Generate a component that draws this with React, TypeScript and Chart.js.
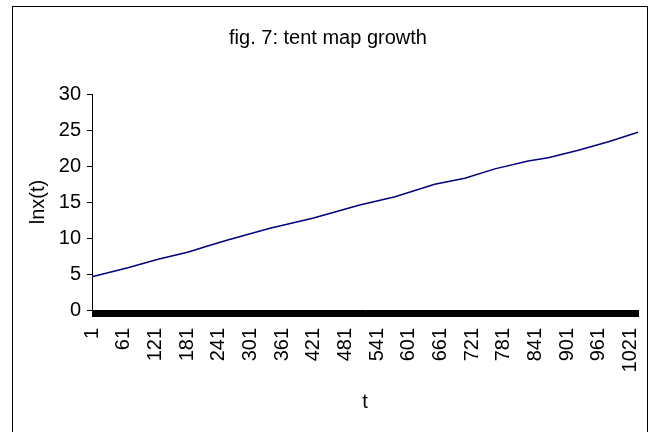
import { useEffect, useRef } from 'react';
import { Chart, registerables } from 'chart.js';

Chart.register(...registerables);

// Categories: time steps t = 1 .. 1035
const T_COUNT = 1035;
const tLabels: string[] = Array.from({ length: T_COUNT }, (_, i) => String(i + 1));

// Values (t, ln x(t))
const sampleT = [1, 69, 126, 182, 220, 258, 338, 419, 508, 575, 650, 707, 764, 827, 865, 922, 979, 1035];
const lnxValues = [4.63, 5.88, 7.04, 8.01, 8.89, 9.72, 11.35, 12.73, 14.58, 15.74, 17.46, 18.29, 19.6, 20.69, 21.15, 22.2, 23.38, 24.68];

const TITLE = 'fig. 7: tent map growth';
const X_TITLE = 't';
const Y_TITLE = 'lnx(t)';
const LABEL_EVERY = 60;

const FONT = 'Liberation Sans, Arial, sans-serif';

const framePlugin = {
  id: 'frame',
  beforeDraw(chart: any) {
    const ctx = chart.ctx;
    ctx.save();
    ctx.fillStyle = '#ffffff';
    ctx.fillRect(0, 0, chart.width, chart.height);
    ctx.restore();
  },
  afterDraw(chart: any) {
    const ctx = chart.ctx;
    ctx.save();
    ctx.strokeStyle = '#000000';
    ctx.lineWidth = 1;
    ctx.strokeRect(12.5, 6.5, 635, 440);
    ctx.restore();
  },
};

export default function App() {
  const canvasRef = useRef<HTMLCanvasElement | null>(null);

  useEffect(() => {
    if (!canvasRef.current) return;
    const chart = new Chart(canvasRef.current, {
      type: 'line',
      data: {
        labels: tLabels,
        datasets: [
          {
            label: 'lnx(t)',
            data: sampleT.map((t, i) => ({ x: String(t), y: lnxValues[i] })),
            borderColor: '#000080',
            borderWidth: 1.5,
            pointRadius: 0,
            tension: 0,
            fill: false,
          },
        ],
      },
      options: {
        responsive: false,
        animation: false,
        devicePixelRatio: 1,
        layout: { padding: { left: 0, right: 0, top: 0, bottom: 0 } },
        plugins: {
          legend: { display: false },
          tooltip: { enabled: false },
          title: {
            display: true,
            text: TITLE,
            color: '#000',
            font: { family: FONT, size: 20, weight: 'normal' },
            padding: { top: 26, bottom: 44 },
          },
        },
        scales: {
          x: {
            type: 'category',
            offset: false,
            border: { color: '#000', width: 1 },
            grid: { drawOnChartArea: false, color: '#000', tickLength: 7, offset: false },
            ticks: {
              autoSkip: false,
              minRotation: 90,
              maxRotation: 90,
              padding: 11,
              color: '#000',
              font: { family: FONT, size: 20 },
              callback: function (this: any, value: any) {
                const l = this.getLabelForValue(value);
                return (Number(l) - 1) % LABEL_EVERY === 0 ? l : '';
              },
            },
            title: {
              display: true,
              text: X_TITLE,
              color: '#000',
              font: { family: FONT, size: 20 },
              padding: { top: 0, bottom: 18 },
            },
            afterFit: (s: any) => {
              s.height = 122;
              s.paddingLeft = 0;
              s.paddingRight = 0;
            },
          },
          y: {
            min: 0,
            max: 30,
            border: { color: '#000', width: 1 },
            grid: { drawOnChartArea: false, color: '#000', tickLength: 5 },
            ticks: {
              stepSize: 5,
              padding: 6,
              color: '#000',
              font: { family: FONT, size: 20 },
            },
            title: {
              display: true,
              text: Y_TITLE,
              color: '#000',
              font: { family: FONT, size: 20 },
              padding: { top: 26, bottom: 0 },
            },
            afterFit: (s: any) => {
              s.width = 92;
            },
          },
          spacer: {
            type: 'linear',
            position: 'right',
            display: true,
            grid: { display: false, drawTicks: false },
            border: { display: false },
            ticks: { display: false },
            afterFit: (s: any) => {
              s.width = 18;
              s.paddingTop = 0;
              s.paddingBottom = 0;
            },
          },
        },
      } as any,
      plugins: [framePlugin],
    });
    return () => chart.destroy();
  }, []);

  return (
    <div style={{ position: 'absolute', left: 0, top: 0, width: 656, height: 432 }}>
      <canvas ref={canvasRef} width={656} height={432} style={{ display: 'block' }} />
    </div>
  );
}
